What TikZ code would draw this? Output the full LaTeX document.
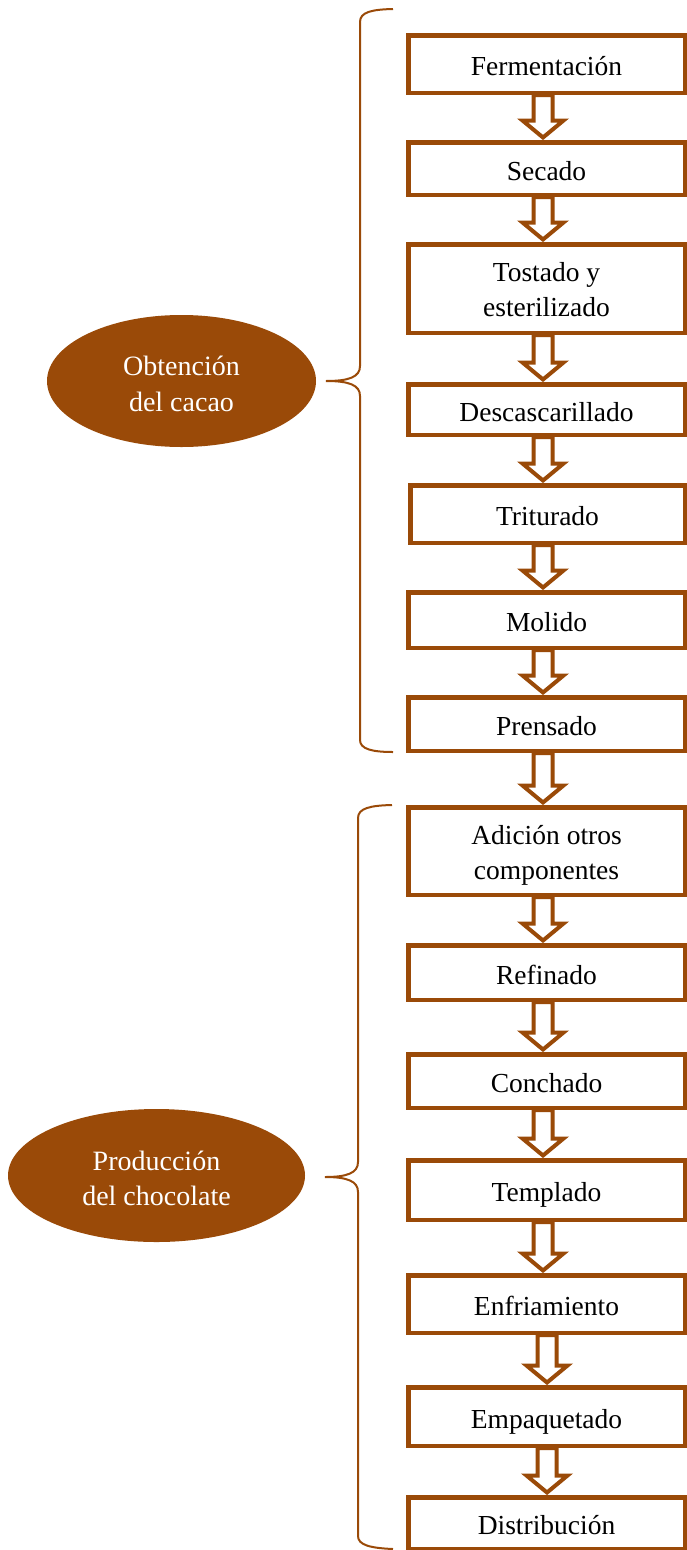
\documentclass[tikz,border=0pt]{standalone}
\usepackage{fontspec}
\setmainfont{Liberation Serif}
\usetikzlibrary{calc,shapes.geometric}
\definecolor{cacao}{RGB}{154,74,8}
\tikzset{
  stepbox/.style={draw=cacao, line width=4.5pt, fill=white, minimum width=276.5pt,
    inner sep=0pt, align=center, text=black, text height=23pt, text depth=0pt,
    font=\fontsize{27.5}{35}\selectfont},
  twoline/.style={text height=56pt, text depth=0pt},
  stage/.style={ellipse, fill=cacao, inner sep=0pt, align=center, text=white,
    text height=60pt, text depth=0pt, font=\fontsize{28}{35.5}\selectfont},
  flow/.style={draw=cacao, line width=4pt, fill=white, line join=miter},
  bracket/.style={draw=cacao, line width=2pt}
}
% hollow block arrow from the bottom of one step to the top of the next
\newcommand\flowarrow[3][543]{%
  \path[flow] let \p1=(#2.south), \p2=(#3.north), \p3=(#1,0) in
    (\x3-9.5pt,\y1) -- (\x3-9.5pt,\y2+19.5pt) -- (\x3-20.5pt,\y2+19.5pt)
    -- (\x3,\y2+2.5pt) -- (\x3+20.5pt,\y2+19.5pt) -- (\x3+9.5pt,\y2+19.5pt)
    -- (\x3+9.5pt,\y1) -- cycle;}
\begin{document}
\begin{tikzpicture}[x=1pt,y=-1pt]
\useasboundingbox (0,0) rectangle (687,1550);

% process steps
\node[stepbox, minimum height=57.5pt] (s1)  at (546.5,64)    {Fermentación};
\node[stepbox, minimum height=52.5pt] (s2)  at (546.5,168.5) {Secado};
\node[stepbox, twoline, minimum height=88.5pt] (s3) at (546.5,288.5) {Tostado y\\esterilizado};
\node[stepbox, minimum height=50.5pt] (s4)  at (546.5,409.5) {Descascarillado};
\node[stepbox, minimum height=57.5pt, minimum width=274.5pt] (s5) at (547.5,514) {Triturado};
\node[stepbox, minimum height=55.5pt] (s6)  at (546.5,620)   {Molido};
\node[stepbox, minimum height=53.5pt] (s7)  at (546.5,724)   {Prensado};
\node[stepbox, twoline, minimum height=87.5pt] (s8) at (546.5,851) {Adición otros\\componentes};
\node[stepbox, minimum height=54.5pt] (s9)  at (546.5,972.5) {Refinado};
\node[stepbox, minimum height=53.5pt] (s10) at (546.5,1081)  {Conchado};
\node[stepbox, minimum height=59.5pt] (s11) at (546.5,1190)  {Templado};
\node[stepbox, minimum height=57.5pt] (s12) at (546.5,1304)  {Enfriamiento};
\node[stepbox, minimum height=58.5pt] (s13) at (546.5,1416.5){Empaquetado};
\node[stepbox, minimum height=51.5pt] (s14) at (546.5,1523)  {Distribución};

% arrows between consecutive steps
\flowarrow{s1}{s2}
\flowarrow{s2}{s3}
\flowarrow{s3}{s4}
\flowarrow{s4}{s5}
\flowarrow{s5}{s6}
\flowarrow{s6}{s7}
\flowarrow{s7}{s8}
\flowarrow{s8}{s9}
\flowarrow{s9}{s10}
\flowarrow{s10}{s11}
\flowarrow{s11}{s12}
\flowarrow[547]{s12}{s13}
\flowarrow[547]{s13}{s14}

% stages
\node[stage, minimum width=269pt, minimum height=132pt] (cacao) at (181.5,381)
  {Obtención\\del cacao};
\node[stage, minimum width=297pt, minimum height=133pt] (choc) at (156.5,1175.5)
  {Producción\\del chocolate};

% braces grouping the steps of each stage
\coordinate (b1top) at (393,9);
\coordinate (b1tip) at (326,381);
\coordinate (b1bot) at (393,752);
\draw[bracket] (b1top) .. controls (372,9.5) and (360,12) .. (360,22)
  -- (360,366) .. controls (360,377) and (349,381) .. (b1tip)
  .. controls (349,381) and (360,385) .. (360,396)
  -- (360,740) .. controls (360,749) and (372,752) .. (b1bot);

\coordinate (b2top) at (392,805);
\coordinate (b2tip) at (325,1177);
\coordinate (b2bot) at (393,1549);
\draw[bracket] (b2top) .. controls (371,805.5) and (358,808) .. (358,818)
  -- (358,1162) .. controls (358,1173) and (347,1177) .. (b2tip)
  .. controls (347,1177) and (358,1181) .. (358,1192)
  -- (358,1536) .. controls (358,1545) and (370,1548) .. (b2bot);
\end{tikzpicture}
\end{document}
